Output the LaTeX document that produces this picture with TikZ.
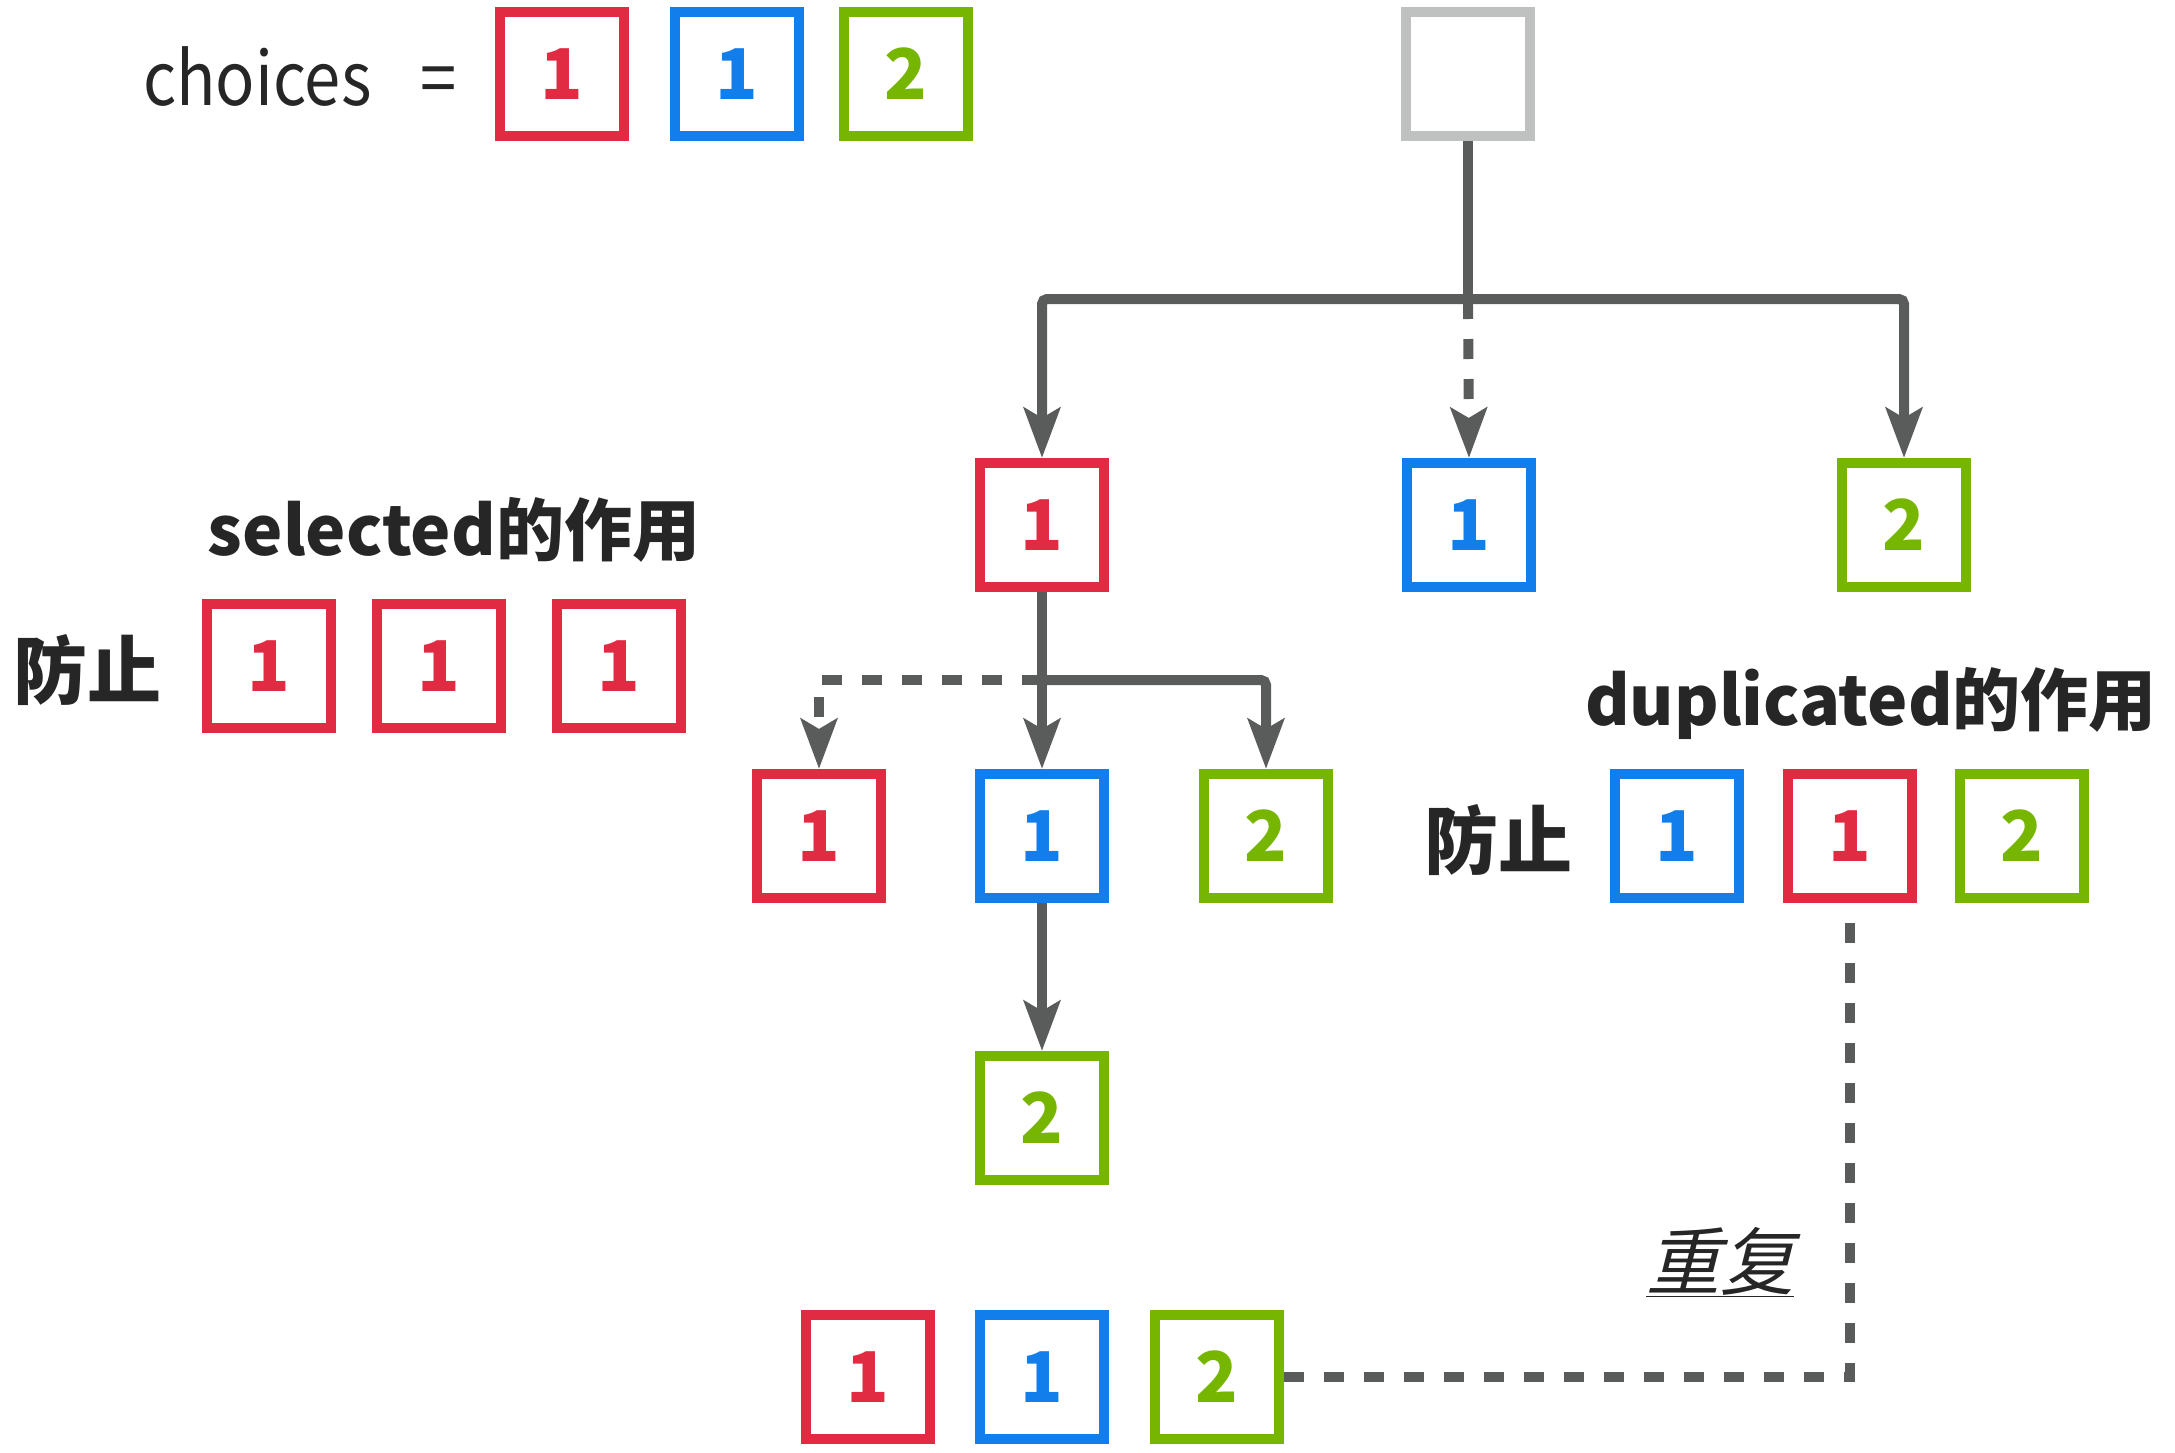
\documentclass[tikz,border=0pt]{standalone}
\usepackage{fontspec}
\setmainfont{Noto Sans CJK SC}
\newfontfamily\slantfont[FakeSlant=0.25]{Noto Sans CJK SC}
\newfontfamily\narrowfont[FakeStretch=0.88]{Noto Sans CJK SC}
\usetikzlibrary{arrows.meta}
\definecolor{cred}{HTML}{E12B42}
\definecolor{cblue}{HTML}{127EEC}
\definecolor{cgreen}{HTML}{76B500}
\definecolor{cgray}{HTML}{BFC1C0}
\definecolor{cline}{HTML}{5A5C5B}
\definecolor{ctext}{HTML}{262626}
\begin{document}
\begin{tikzpicture}[x=1pt,y=-1pt,
  box/.style={draw, line width=10pt, minimum size=124pt, inner sep=0pt, fill=white,
    font=\fontsize{70}{70}\selectfont\bfseries},
  rbox/.style={box, draw=cred, text=cred},
  bbox/.style={box, draw=cblue, text=cblue},
  gbox/.style={box, draw=cgreen, text=cgreen},
  greybox/.style={box, draw=cgray},
  link/.style={draw=cline, line width=10pt},
  conn/.style={link, -{Stealth[length=50pt,width=36pt,inset=10pt]}},
  dashline/.style={dash pattern=on 20pt off 20pt},
  title/.style={text=ctext, inner sep=0pt, font=\fontsize{68}{68}\selectfont\bfseries},
  label/.style={text=ctext, inner sep=0pt, font=\narrowfont\fontsize{74}{74}\selectfont},
]
\useasboundingbox (0,0) rectangle (2175,1452);

% top row
\node[label, anchor=base west] (choices) at (143,105) {choices};
\node[label, anchor=base] (eq) at (439,105) {=};
\node[rbox] (c1) at (562,74) {1};
\node[bbox] (c2) at (737,74) {1};
\node[gbox] (c3) at (906,74) {2};
\node[greybox] (root) at (1468,74) {};

% level 1
\node[rbox] (a1) at (1042,525) {1};
\node[bbox] (a2) at (1469,525) {1};
\node[gbox] (a3) at (1904,525) {2};

% level 2
\node[rbox] (b1) at (819,836) {1};
\node[bbox] (b2) at (1042,836) {1};
\node[gbox] (b3) at (1266,836) {2};

% level 3
\node[gbox] (d1) at (1042,1118) {2};

% bottom result
\node[rbox] (e1) at (868,1377) {1};
\node[bbox] (e2) at (1042,1377) {1};
\node[gbox] (e3) at (1217,1377) {2};

% selected panel
\node[title, anchor=base] (seltitle) at (454,555) {selected的作用};
\node[title, font=\fontsize{74}{74}\selectfont\bfseries] (fz1) at (87,670) {防止};
\node[rbox] (s1) at (269,666) {1};
\node[rbox] (s2) at (439,666) {1};
\node[rbox] (s3) at (619,666) {1};

% duplicated panel
\node[title, anchor=base] (duptitle) at (1871,725) {duplicated的作用};
\node[title, font=\fontsize{74}{74}\selectfont\bfseries] (fz2) at (1498,840) {防止};
\node[bbox] (p1) at (1677,836) {1};
\node[rbox] (p2) at (1850,836) {1};
\node[gbox] (p3) at (2022,836) {2};

\node[text=ctext, inner sep=0pt, font=\fontsize{74}{74}\selectfont] (rep) at (1720,1262) {\slantfont\underline{重复}};

% connectors
\coordinate (j1) at (1468,299);
\coordinate (j2) at (1042,680);
\draw[link] (root.south) -- (j1);
\draw[conn, rounded corners=5pt] (j1) -| (a1.north);
\draw[conn, rounded corners=5pt] (j1) -| (a3.north);
\draw[conn, dashline] (j1) -- (a2.north);
\draw[conn] (a1.south) -- (b2.north);
\draw[conn, rounded corners=5pt] (j2) -| (b3.north);
\draw[conn, dashline] (j2) -| (b1.north);
\draw[conn] (b2.south) -- (d1.north);
\draw[link, dashline] (e3.east) -| (p2.south);
\end{tikzpicture}
\end{document}
